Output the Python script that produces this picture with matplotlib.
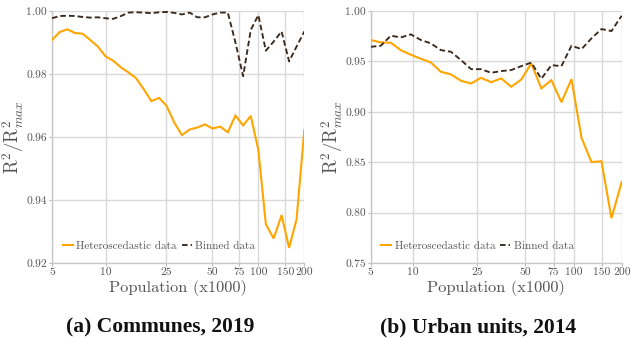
import matplotlib
matplotlib.use("Agg")
import matplotlib.pyplot as plt

# ---- data -------------------------------------------------------------
# population thresholds (x1000) for each panel
pop_communes = [4.45, 4.99, 5.61, 6.29, 7.06, 7.92, 8.89, 9.98, 11.2, 12.6,
                14.1, 15.8, 17.8, 19.9, 22.4, 25.1, 28.2, 31.6, 35.5, 39.8,
                44.7, 50.1, 56.3, 63.1, 70.8, 79.5, 89.2, 100, 112, 126,
                142, 159, 178, 200]
hetero_communes = [0.9908, 0.9933, 0.9942, 0.9930, 0.9928, 0.9908, 0.9887,
                   0.9856, 0.9842, 0.9821, 0.9805, 0.9787, 0.9751, 0.9714,
                   0.9724, 0.9698, 0.9645, 0.9606, 0.9624, 0.9630, 0.9640,
                   0.9627, 0.9633, 0.9615, 0.9668, 0.9637, 0.9667, 0.9559,
                   0.9323, 0.9278, 0.9352, 0.9248, 0.9339, 0.9622]
binned_communes = [0.9977, 0.9984, 0.9985, 0.9984, 0.9981, 0.9979, 0.9980,
                   0.9977, 0.9975, 0.9984, 0.9995, 0.9996, 0.9995, 0.9993,
                   0.9996, 0.9997, 0.9994, 0.9989, 0.9995, 0.9980, 0.9980,
                   0.9989, 0.9995, 0.9995, 0.9900, 0.9793, 0.9940, 0.9987,
                   0.9874, 0.9903, 0.9935, 0.9840, 0.9887, 0.9935]

pop_urban = [5.45, 6.29, 7.27, 8.39, 9.69, 11.2, 12.9, 14.9, 17.2, 19.9,
             23.0, 26.5, 30.6, 35.4, 40.9, 47.2, 54.5, 62.9, 72.7, 83.9,
             96.9, 112, 129, 149, 172, 199]
hetero_urban = [0.9712, 0.9689, 0.9685, 0.9612, 0.9566, 0.9526, 0.9490,
                0.9397, 0.9371, 0.9307, 0.9281, 0.9337, 0.9294, 0.9331,
                0.9248, 0.9321, 0.9480, 0.9232, 0.9314, 0.9095, 0.9324,
                0.8741, 0.8502, 0.8509, 0.7945, 0.8303]
binned_urban = [0.9645, 0.9655, 0.9755, 0.9738, 0.9768, 0.9712, 0.9679,
                0.9612, 0.9596, 0.9513, 0.9423, 0.9423, 0.9387, 0.9404,
                0.9414, 0.9453, 0.9488, 0.9328, 0.9463, 0.9453, 0.9655,
                0.9622, 0.9728, 0.9821, 0.9801, 0.9953]

x_breaks = [5, 10, 25, 50, 75, 100, 150, 200]
x_break_labels = ["5", "10", "25", "50", "75", "100", "150", "200"]
y_breaks_communes = [0.92, 0.94, 0.96, 0.98, 1.00]
y_breaks_urban = [0.75, 0.80, 0.85, 0.90, 0.95, 1.00]

captions = ["(a) Communes, 2019", "(b) Urban units, 2014"]
series_labels = ["Heteroscedastic data", "Binned data"]

# ---- style -------------------------------------------------------------
plt.rcParams["font.family"] = ["cmr10", "DejaVu Serif"]
plt.rcParams["mathtext.fontset"] = "cm"
plt.rcParams["axes.formatter.use_mathtext"] = True

ORANGE = "#FFA500"
DARK = "#3a2a1e"
GRID = "#d9d9d9"
TEXT = "#555555"

fig = plt.figure(figsize=(6.31, 3.39), dpi=100)

W, H = 631.0, 339.0
panels = [
    dict(rect=(52 / W, (H - 263) / H, 252.3 / W, 252 / H),
         pop=pop_communes, het=hetero_communes, bin=binned_communes,
         yb=y_breaks_communes, ylim=(0.92, 1.0), cap=captions[0], capx=160.5),
    dict(rect=(370.7 / W, (H - 263) / H, 251.3 / W, 252 / H),
         pop=pop_urban, het=hetero_urban, bin=binned_urban,
         yb=y_breaks_urban, ylim=(0.75, 1.0), cap=captions[1], capx=478.5),
]

for p in panels:
    ax = fig.add_axes(p["rect"])
    ax.set_xscale("log")
    ax.plot(p["pop"], p["het"], color=ORANGE, lw=1.5, label=series_labels[0],
            solid_joinstyle="miter", zorder=3)
    ax.plot(p["pop"], p["bin"], color=DARK, lw=1.35, dashes=(3.0, 1.6),
            label=series_labels[1], zorder=3)

    ax.set_xlim(p["pop"][0], 200)
    ax.set_ylim(*p["ylim"])

    # the smallest break sits at the left edge of the panel
    ticks = [p["pop"][0]] + x_breaks[1:]
    ax.set_xticks(ticks)
    ax.set_xticklabels(x_break_labels)
    ax.xaxis.set_minor_locator(matplotlib.ticker.NullLocator())
    ax.set_yticks(p["yb"])
    ax.set_yticklabels([f"{v:.2f}" for v in p["yb"]])

    ax.grid(True, color=GRID, lw=1.0, zorder=0)
    ax.set_axisbelow(True)
    for s in ("top", "right"):
        ax.spines[s].set_visible(False)
    for s in ("left", "bottom"):
        ax.spines[s].set_color("#c8c8c8")
        ax.spines[s].set_linewidth(1.0)
    ax.tick_params(axis="both", colors="#bbbbbb", labelcolor=TEXT,
                   labelsize=8.3, length=2, width=0.8, pad=1.5)

    ax.set_xlabel("Population (x1000)", fontsize=11.8, color=TEXT)
    ax.xaxis.set_label_coords(0.5, -0.066)
    ax.set_ylabel(r"$\mathrm{R}^2/\mathrm{R}^2_{max}$", fontsize=13.5,
                  color=TEXT)
    ax.yaxis.set_label_coords(-0.103, 0.5)

    leg = ax.legend(loc="center left", bbox_to_anchor=(0.042, 0.067), ncol=2,
                    frameon=False, fontsize=8, handlelength=0.9,
                    handletextpad=0.35, columnspacing=0.4, borderpad=0,
                    borderaxespad=0)
    for t in leg.get_texts():
        t.set_color(TEXT)

    fig.text(p["capx"] / W, (H - 327) / H, p["cap"], ha="center",
             va="center", fontsize=15.5, fontweight="bold",
             family="Liberation Serif", color="#111111")

fig.savefig("out.png", dpi=100)
